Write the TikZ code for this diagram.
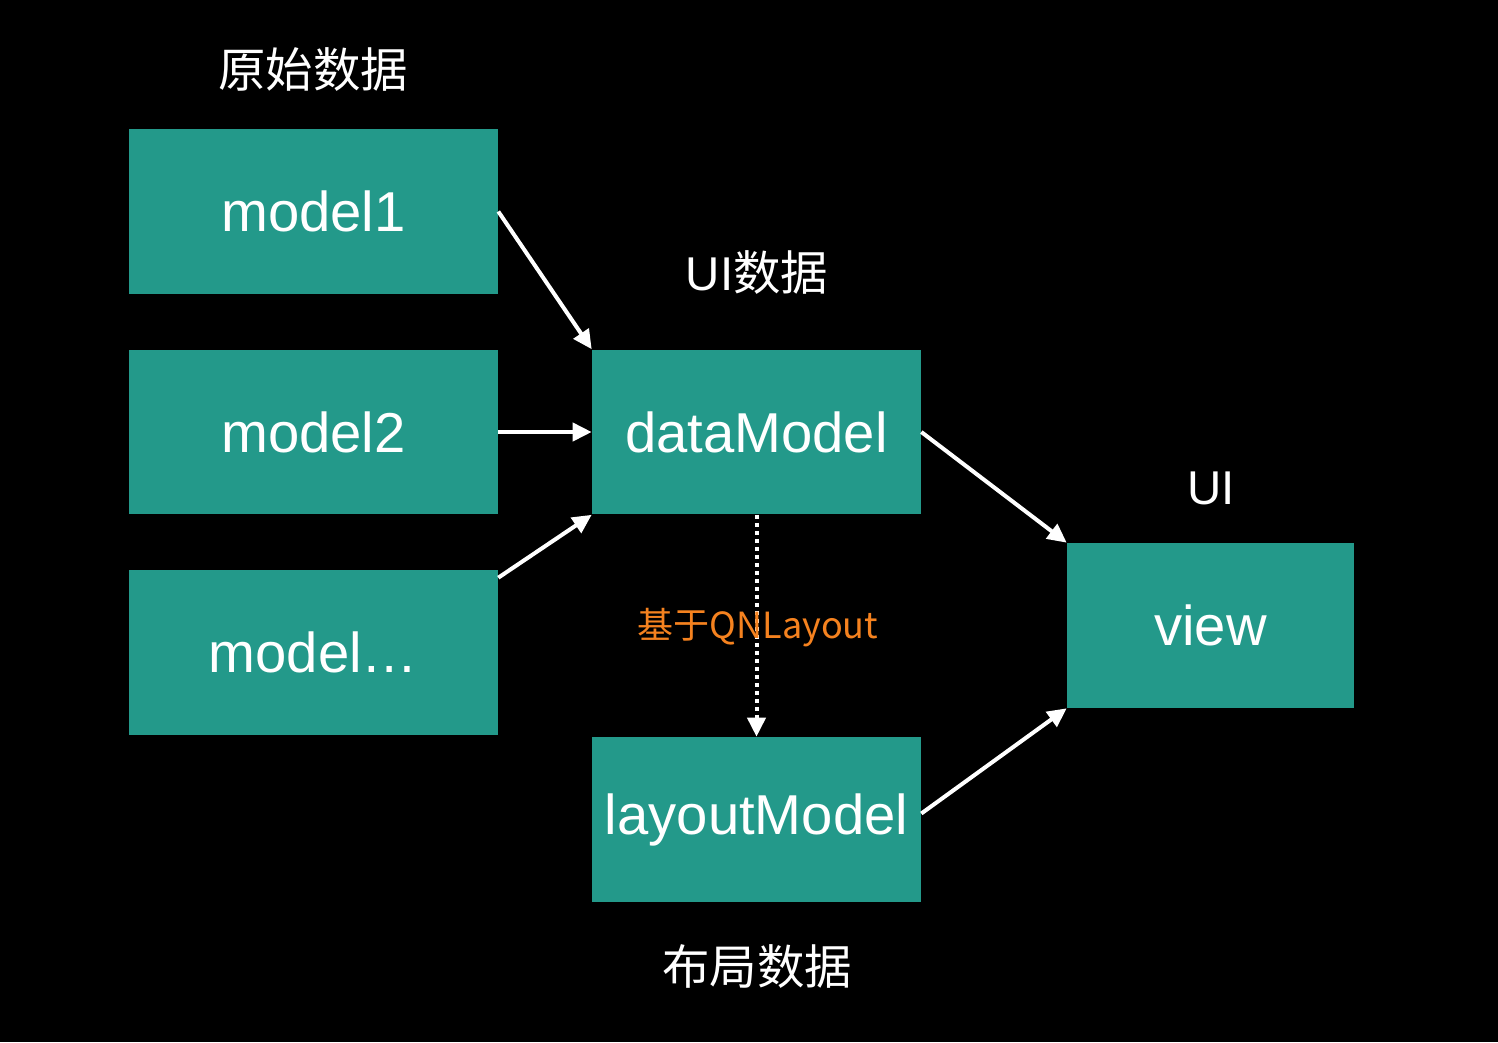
\documentclass[tikz,border=0pt]{standalone}
\usepackage{fontspec}
\setmainfont{Liberation Sans}
\newfontfamily\cjk{Noto Sans CJK SC}
\usetikzlibrary{arrows.meta}
\definecolor{teal1}{HTML}{23998A}
\definecolor{orng}{HTML}{F5821F}

\begin{document}
\begin{tikzpicture}[x=0.02cm,y=-0.02cm,
    box/.style={fill=teal1,text=white,minimum width=7.38cm,minimum height=3.3cm,inner sep=0pt,font=\fontsize{32pt}{38pt}\selectfont},%
    wide/.style={box,minimum width=6.58cm},%
    lab/.style={text=white,font=\fontsize{27pt}{32pt}\selectfont},%
    f/.style={-{Triangle[length=0.38cm,width=0.36cm]},white,line width=0.08cm}]
    \fill[black] (0,0) rectangle (1498,1042);
    \useasboundingbox (0,0) rectangle (1498,1042);
    % source models
    \node[box] (m1) at (313.5,211.5) {\raisebox{-0.06cm}{model1}};
    \node[box] (m2) at (313.5,432) {model2};
    \node[box] (m3) at (313.5,652.5) {\raisebox{-0.06cm}{model…}};
    \node[lab] (raw) at (313,70) {\cjk 原始数据};
    % ui + layout data
    \node[wide] (dm) at (756.5,432) {dataModel};
    \node[wide] (lm) at (756.5,819.5) {\raisebox{-0.1cm}{layoutModel}};
    \node[lab] (uid) at (757,273) {UI{\cjk 数据}};
    \node[lab] (lay) at (757,967) {\cjk 布局数据};
    % view
    \node[box,minimum width=5.74cm] (v) at (1210.5,625.5) {view};
    \node[lab] (ui) at (1211,488) {UI};

    \draw[f] (m1.east) -- (dm.north west);
    \draw[f] (m2.east) -- (dm.west);
    \draw[f] ([yshift=-0.16cm]m3.north east) -- (dm.south west);
    \draw[f] (dm.east) -- (v.north west);
    \draw[f] ([yshift=0.12cm]lm.east) -- (v.south west);
    \draw[f,dash pattern=on 0.08cm off 0.08cm] (dm.south) -- (lm.north);
    \node[text=orng,font=\fontsize{20.5pt}{24pt}\selectfont\cjk] (qn) at (758,628) {基于QNLayout};
\end{tikzpicture}
\end{document}
